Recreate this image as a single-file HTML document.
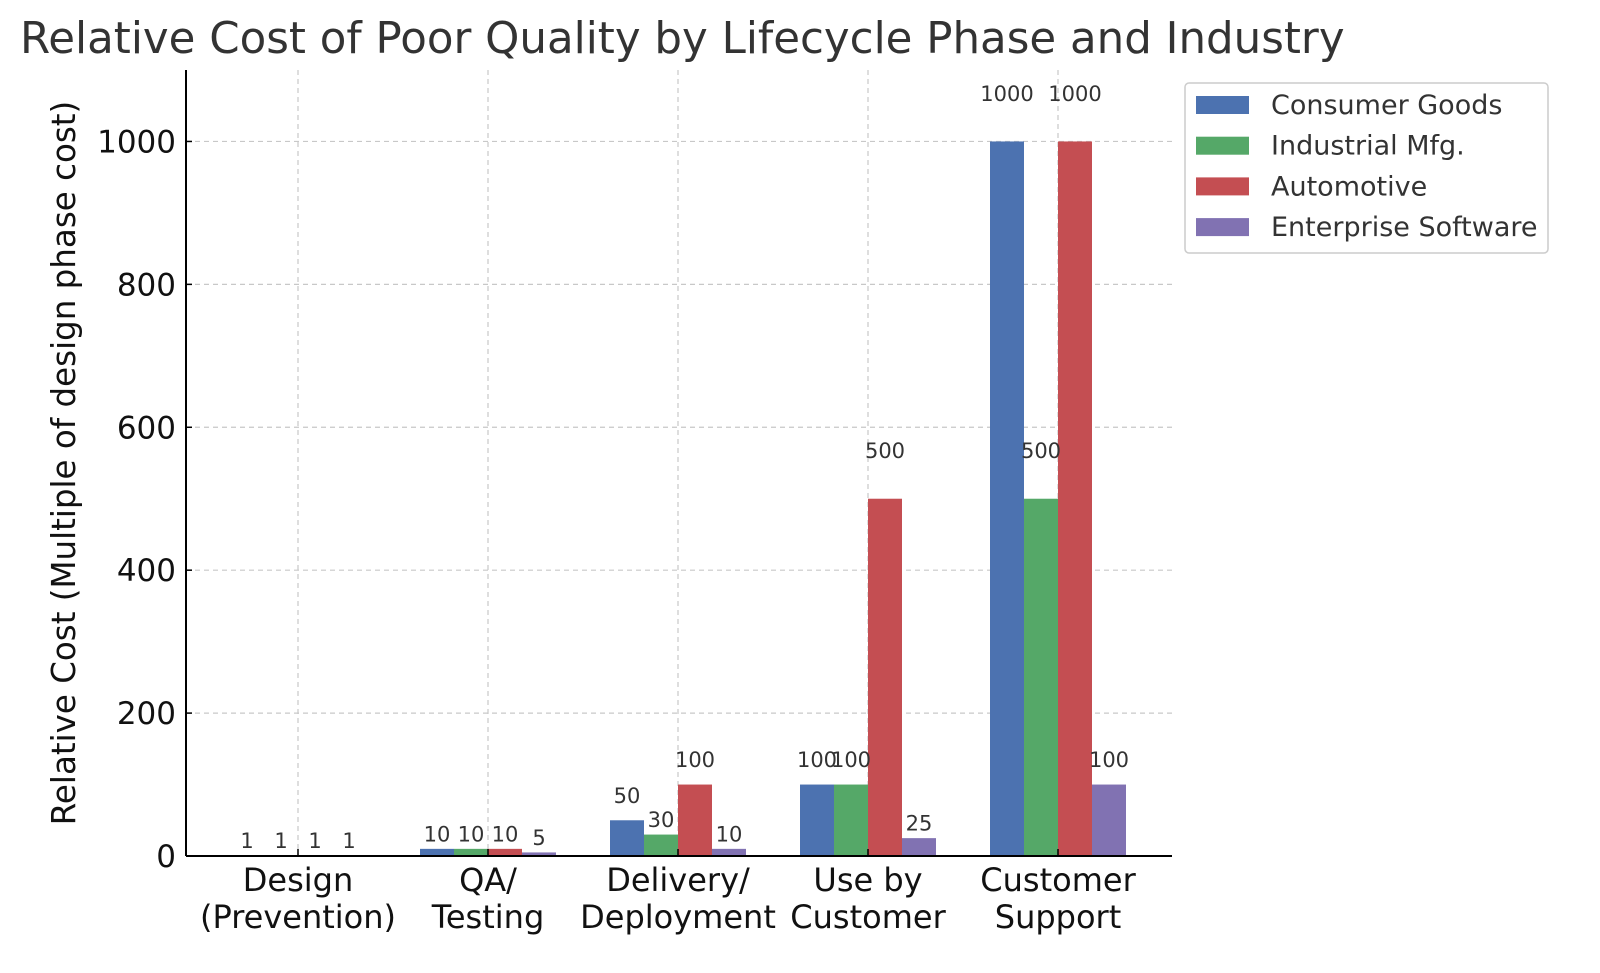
<!DOCTYPE html>
<html><head><meta charset="utf-8">
<style>
html,body{margin:0;padding:0;background:#fff;}
svg{display:block;font-family:"DejaVu Sans","Liberation Sans",sans-serif;}
</style></head>
<body>
<svg id="chart" width="1600" height="973" viewBox="0 0 1600 973" xmlns="http://www.w3.org/2000/svg">
<text x="20" y="53" font-size="43.5" fill="#333">Relative Cost of Poor Quality by Lifecycle Phase and Industry</text>
<text transform="translate(75,463) rotate(-90)" text-anchor="middle" font-size="32.5" fill="#111">Relative Cost (Multiple of design phase cost)</text>
<g id="grid"></g><g id="bars"></g><g id="labels"></g><g id="axes"></g>
<g>
<rect x="1185" y="83" width="363" height="170" rx="4" fill="#fff" stroke="#ccc" stroke-width="1.5"/>
<g id="legend"></g>
</g>
</svg>
<script>
const categories = [["Design","(Prevention)"],["QA/","Testing"],["Delivery/","Deployment"],["Use by","Customer"],["Customer","Support"]];
const seriesNames = ["Consumer Goods","Industrial Mfg.","Automotive","Enterprise Software"];
const consumerGoods = [1,10,50,100,1000];
const industrialMfg = [1,10,30,100,500];
const automotive = [1,10,100,500,1000];
const enterpriseSoftware = [1,5,10,25,100];
const yTicks = [0,200,400,600,800,1000];
const series = [consumerGoods, industrialMfg, automotive, enterpriseSoftware];
const colors = ["#4c72b0","#55a868","#c44e52","#8172b2"];
const NS = "http://www.w3.org/2000/svg";
const L=186,R=1172,T=70,B=856,YMAX=1100,X0=298,STEP=190,BW=34;
const y = v => B - v/YMAX*(B-T);
const x = i => X0 + i*STEP;
function mk(tag, attrs, parent, text){const e=document.createElementNS(NS,tag);for(const k in attrs)e.setAttribute(k,attrs[k]);if(text!==undefined)e.textContent=text;parent.appendChild(e);return e;}
const grid=document.getElementById('grid'),bars=document.getElementById('bars'),labels=document.getElementById('labels'),axes=document.getElementById('axes'),legend=document.getElementById('legend');
yTicks.forEach(t=>{
  if(t>0){const g=mk('line',{x1:L,x2:R,y1:y(t),y2:y(t),stroke:'#c8c8c8','stroke-width':1.2,'stroke-dasharray':'5,4'},grid);
  
  }
  const tl=mk('text',{x:176,y:y(t)+11,'text-anchor':'end','font-size':31,fill:'#111'},axes,String(t));
  
  
  mk('line',{x1:L,x2:L+6,y1:y(t),y2:y(t),stroke:'#000','stroke-width':1.5},axes);
});
categories.forEach((c,i)=>{
  const g=mk('line',{x1:x(i),x2:x(i),y1:T,y2:B,stroke:'#c8c8c8','stroke-width':1.2,'stroke-dasharray':'5,4'},grid);
  
  
  mk('line',{x1:x(i),x2:x(i),y1:B,y2:B-7,stroke:'#000','stroke-width':1.5},axes);
  const tl=mk('text',{x:x(i),y:891,'text-anchor':'middle','font-size':32,fill:'#111'},axes);
  
  
  mk('tspan',{x:x(i),y:891},tl,c[0]);
  mk('tspan',{x:x(i),y:928},tl,c[1]);
});
series.forEach((s,si)=>{
  s.forEach((v,i)=>{
    const left=x(i)+(si-2)*BW;
    const r=mk('rect',{x:left,y:y(v),width:BW,height:B-y(v),fill:colors[si]},bars);
    
    
    const off = v>=500?48:(v>=50?25:15);
    const t=mk('text',{x:left+BW/2,y:y(v)-off+7.5,'text-anchor':'middle','font-size':21,fill:'#333'},labels,String(v));
    
    
  });
});
mk('line',{x1:L,x2:L,y1:T,y2:B,stroke:'#000','stroke-width':2},axes);
mk('line',{x1:L,x2:R,y1:B,y2:B,stroke:'#000','stroke-width':2},axes);
seriesNames.forEach((n,i)=>{
  const cy=105+i*40.7;
  const sw=mk('rect',{x:1196,y:cy-9,width:53,height:18,fill:colors[i]},legend);
  
  
  const t=mk('text',{x:1271,y:cy+9,'font-size':27,fill:'#333'},legend,n);
  
  
});
</script>
</body></html>
